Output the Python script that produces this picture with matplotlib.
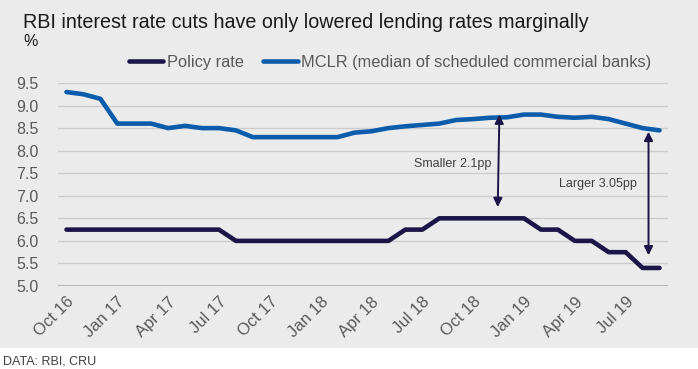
import matplotlib
matplotlib.use("Agg")
import numpy as np
from matplotlib import pyplot as plt
from matplotlib.patches import Rectangle

plt.rcParams["font.family"] = ["Liberation Sans", "DejaVu Sans"]

# monthly, Oct 2016 .. Sep 2019
months = ["Oct 16", "Nov 16", "Dec 16", "Jan 17", "Feb 17", "Mar 17",
          "Apr 17", "May 17", "Jun 17", "Jul 17", "Aug 17", "Sep 17",
          "Oct 17", "Nov 17", "Dec 17", "Jan 18", "Feb 18", "Mar 18",
          "Apr 18", "May 18", "Jun 18", "Jul 18", "Aug 18", "Sep 18",
          "Oct 18", "Nov 18", "Dec 18", "Jan 19", "Feb 19", "Mar 19",
          "Apr 19", "May 19", "Jun 19", "Jul 19", "Aug 19", "Sep 19"]
policy_rate = [6.25, 6.25, 6.25, 6.25, 6.25, 6.25, 6.25, 6.25, 6.25, 6.25,
               6.0, 6.0, 6.0, 6.0, 6.0, 6.0, 6.0, 6.0, 6.0, 6.0,
               6.25, 6.25, 6.5, 6.5, 6.5, 6.5, 6.5, 6.5, 6.25, 6.25,
               6.0, 6.0, 5.75, 5.75, 5.4, 5.4]
mclr = [9.3, 9.25, 9.15, 8.6, 8.6, 8.6, 8.5, 8.55, 8.5, 8.5,
        8.45, 8.3, 8.3, 8.3, 8.3, 8.3, 8.3, 8.4, 8.43, 8.5,
        8.54, 8.57, 8.6, 8.68, 8.7, 8.73, 8.74, 8.8, 8.8, 8.75,
        8.73, 8.75, 8.7, 8.6, 8.5, 8.45]

NAVY = "#1c1548"
BLUE = "#0b5cab"
GREY_TXT = "#595959"

fig = plt.figure(figsize=(6.98, 3.69), dpi=100)
fig.patch.set_facecolor("#ebebeb")
fig.patches.append(Rectangle((0, 0), 1, 21 / 369, transform=fig.transFigure,
                             facecolor="white", edgecolor="none", zorder=0))

ax = fig.add_axes([58 / 698, 1 - 286 / 369, 610 / 698, 203 / 369])
ax.set_facecolor("none")

x = np.arange(len(months))
ax.plot(x, policy_rate, color=NAVY, lw=3.3, solid_joinstyle="round",
        solid_capstyle="round", label="Policy rate", zorder=3)
ax.plot(x, mclr, color=BLUE, lw=3.3, solid_joinstyle="round",
        solid_capstyle="round",
        label="MCLR (median of scheduled commercial banks)", zorder=3)

ax.set_xlim(-0.5, len(months) - 0.5)
ax.set_ylim(5.0, 9.5)
yt = np.arange(5.0, 9.51, 0.5)
ax.set_yticks(yt)
ax.set_yticklabels([f"{v:.1f}" for v in yt])
for v in yt[1:]:
    ax.axhline(v, color="#cdcdcd", lw=1.0, zorder=1)
ax.axhline(5.0, color="#a6a6a6", lw=1.8, zorder=2)

ax.set_xticks(x[::3])
ax.set_xticklabels(months[::3], rotation=45, ha="right", va="top",
                   rotation_mode="anchor")
ax.tick_params(axis="both", length=0, labelsize=11.5, colors=GREY_TXT)
ax.tick_params(axis="x", labelsize=12, pad=6)
ax.tick_params(axis="y", pad=14)
for s in ax.spines.values():
    s.set_visible(False)

# gap annotations
arrow = dict(arrowstyle="<|-|>", color=NAVY, lw=1.4, mutation_scale=13,
             shrinkA=0, shrinkB=0)
ax.annotate("", xy=(25.45, 6.75), xytext=(25.55, 8.8), arrowprops=arrow,
            zorder=4)
ax.annotate("", xy=(34.35, 5.68), xytext=(34.35, 8.42), arrowprops=arrow,
            zorder=4)
ax.text(25.05, 7.7, "Smaller 2.1pp", ha="right", va="center", fontsize=9,
        color="#404040")
ax.text(33.65, 7.26, "Larger 3.05pp", ha="right", va="center", fontsize=9,
        color="#404040")

fig.text(23 / 698, 1 - 22 / 369, "RBI interest rate cuts have only lowered "
         "lending rates marginally", ha="left", va="center", fontsize=14.2,
         color="#1a1a1a")
fig.text(23 / 698, 1 - 41 / 369, "%", ha="left", va="center", fontsize=11.5,
         color="#1a1a1a")
fig.legend(loc="center", bbox_to_anchor=(390 / 698, 1 - 62 / 369), ncol=2,
           frameon=False, fontsize=11.8, handlelength=2.1, handletextpad=0.2,
           columnspacing=1.2, labelcolor=GREY_TXT)
fig.text(3 / 698, 1 - 361 / 369, "DATA: RBI, CRU", ha="left", va="center",
         fontsize=9, color="#404040")

fig.savefig("out.png", dpi=100, facecolor=fig.get_facecolor())
